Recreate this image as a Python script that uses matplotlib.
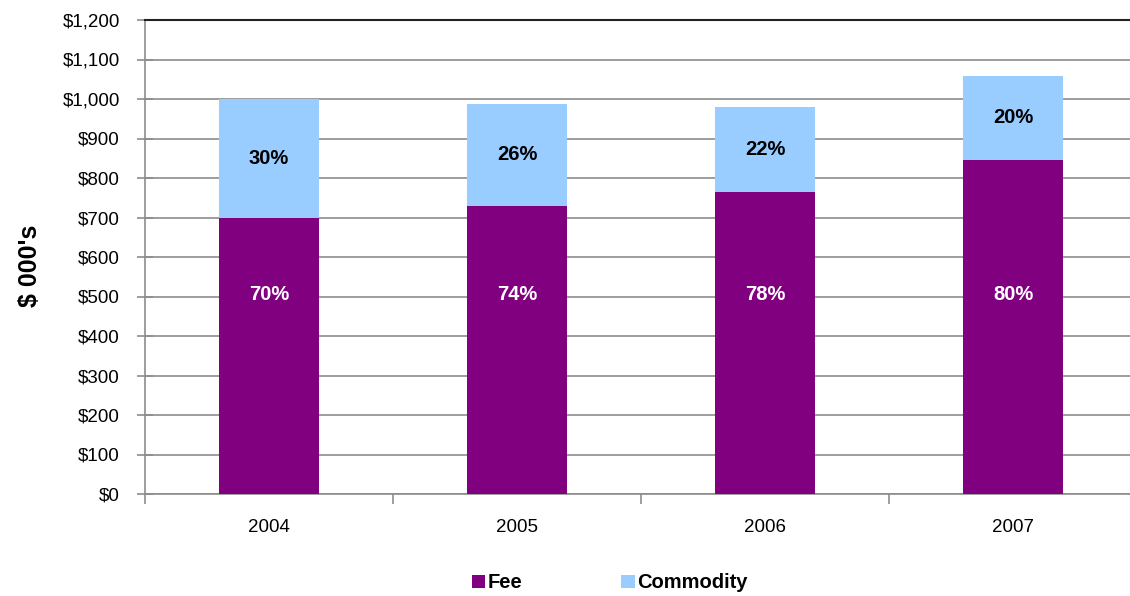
import matplotlib.pyplot as plt
import numpy as np

plt.rcParams['font.family'] = ['Liberation Sans', 'DejaVu Sans']

years = ['2004', '2005', '2006', '2007']
fee = [700, 730, 765, 846]
commodity = [300, 257, 215, 212]

fee_color = '#800080'
commodity_color = '#99CCFF'
grid_color = '#8c8c8c'

fee = np.array(fee)
commodity = np.array(commodity)
total = fee + commodity
fee_pct = np.round(fee / total * 100).astype(int)
com_pct = 100 - fee_pct

fig = plt.figure(figsize=(11.3, 5.96), dpi=100)
ax = fig.add_axes([145 / 1130, 1 - 494 / 596, 992 / 1130, 474 / 596])

x = np.arange(len(years))
w = 0.40
ax.bar(x, fee, w, color=fee_color, label='Fee', zorder=3)
ax.bar(x, commodity, w, bottom=fee, color=commodity_color, label='Commodity', zorder=3)

# percentage labels
for i in range(len(years)):
    ax.text(x[i], 505, f'{fee_pct[i]}%', ha='center', va='center',
            color='white', fontsize=14.5, fontweight='bold', zorder=4)
    ax.text(x[i], fee[i] + commodity[i] / 2, f'{com_pct[i]}%', ha='center', va='center',
            color='black', fontsize=14.5, fontweight='bold', zorder=4)

ax.set_xlim(-0.5, 3.5)
ax.set_ylim(0, 1200)
ax.set_yticks(np.arange(0, 1201, 100))
ax.set_yticklabels([f'${v:,}' for v in range(0, 1201, 100)], fontsize=13.5)
ax.yaxis.grid(True, color=grid_color, linewidth=1.2, zorder=0)
ax.set_axisbelow(True)

# category labels centred, ticks on category boundaries
ax.set_xticks(x)
ax.set_xticklabels(years, fontsize=13.5)
ax.tick_params(axis='x', which='major', length=0, pad=18)
ax.set_xticks(np.arange(-0.5, 4, 1), minor=True)
ax.tick_params(axis='x', which='minor', length=7, color=grid_color, width=1.2)
ax.tick_params(axis='y', direction='inout', length=11, color=grid_color, width=1.2, pad=12.5)

for side in ['left', 'bottom']:
    ax.spines[side].set_color(grid_color)
    ax.spines[side].set_linewidth(1.2)
ax.spines['right'].set_visible(False)
ax.spines['top'].set_color('#222222')
ax.spines['top'].set_linewidth(1.5)

fig.text(30 / 1130, 1 - 266 / 596, "$ 000's", rotation=90, ha='center', va='center',
         fontsize=18, fontweight='bold')

fig.legend(loc='center', bbox_to_anchor=(610 / 1130, 1 - 583 / 596), ncol=2, frameon=False,
           prop={'size': 14.5, 'weight': 'bold'}, handlelength=0.65, handleheight=0.65,
           handletextpad=0.15, columnspacing=4.9)

fig.savefig('out.png', dpi=100)
